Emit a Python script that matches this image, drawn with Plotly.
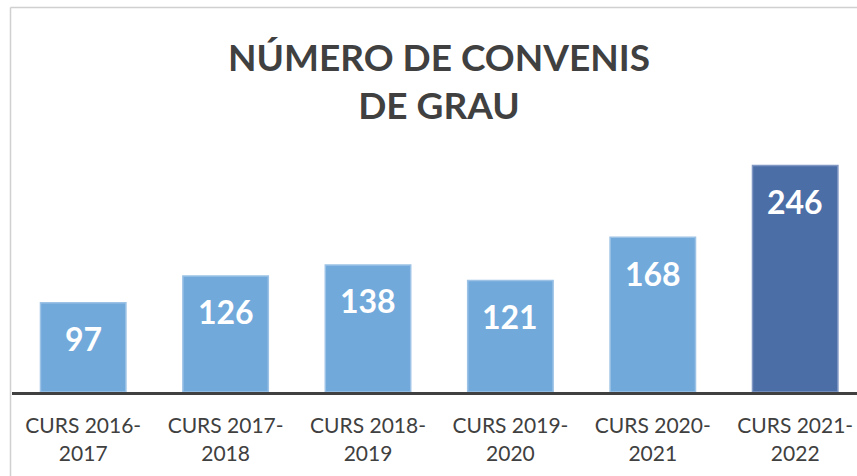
import plotly.graph_objects as go

# --- data ---
courses = ["CURS 2016-<br>2017", "CURS 2017-<br>2018", "CURS 2018-<br>2019",
           "CURS 2019-<br>2020", "CURS 2020-<br>2021", "CURS 2021-<br>2022"]
agreements = [97, 126, 138, 121, 168, 246]
bar_colors = ["#72A9DB", "#72A9DB", "#72A9DB", "#72A9DB", "#72A9DB", "#4C6EA6"]
edge_colors = ["#9CC2E6", "#9CC2E6", "#9CC2E6", "#9CC2E6", "#9CC2E6", "#7F97C2"]

W, H = 857, 476
ML, MR, MT, MB = 12, 0, 8, 84
TEXT = "#404040"

fig = go.Figure(go.Bar(
    x=list(range(len(courses))), y=agreements,
    marker=dict(color=bar_colors, line=dict(color=edge_colors, width=1.5)),
    width=0.6, hoverinfo="skip",
))

# value labels, white, sitting near the top of each bar
for i, v in enumerate(agreements):
    fig.add_annotation(x=i, y=v, text=f"<b>{v}</b>", showarrow=False,
                       yanchor="middle", yshift=-36,
                       font=dict(family="Lato", size=32, color="white"))

# title
plot_w = W - ML - MR
plot_h = H - MT - MB
fig.add_annotation(xref="paper", yref="paper", x=(439 - ML) / plot_w, y=(392 - 80) / plot_h,
                   text="<b>NÚMERO DE CONVENIS<br>DE GRAU</b>", showarrow=False,
                   xanchor="center", yanchor="middle",
                   font=dict(family="Lato", size=37, color=TEXT))

# light frame of the original chart box (left and top edges)
px_per = 1.0 / plot_w
fig.add_shape(type="line", xref="paper", yref="paper",
              x0=(10.5 - ML) * px_per, x1=(10.5 - ML) * px_per, y0=-1, y1=(plot_h + 0.5) / plot_h,
              line=dict(color="#D0D0D0", width=1.5))
fig.add_shape(type="line", xref="paper", yref="paper",
              x0=(10.5 - ML) * px_per, x1=1.2, y0=(plot_h + 0.5) / plot_h, y1=(plot_h + 0.5) / plot_h,
              line=dict(color="#D0D0D0", width=1.5))

fig.update_layout(
    width=W, height=H,
    margin=dict(l=ML, r=MR, t=MT, b=MB),
    paper_bgcolor="white", plot_bgcolor="white",
    showlegend=False,
    font=dict(family="Lato", color=TEXT),
)
fig.update_xaxes(
    range=[-0.5, -0.5 + plot_w / 142.4],
    tickvals=list(range(len(courses))), ticktext=courses,
    tickfont=dict(family="Lato", size=21, color=TEXT),
    showline=True, linecolor=TEXT, linewidth=3,
    ticks="outside", ticklen=13, tickcolor="rgba(0,0,0,0)",
    showgrid=False, zeroline=False, fixedrange=True,
)
fig.update_yaxes(range=[0, 417], visible=False, showgrid=False, zeroline=False)

fig.write_html("out.html", config={"displayModeBar": False},
               post_script="document.body.style.margin='0';")
